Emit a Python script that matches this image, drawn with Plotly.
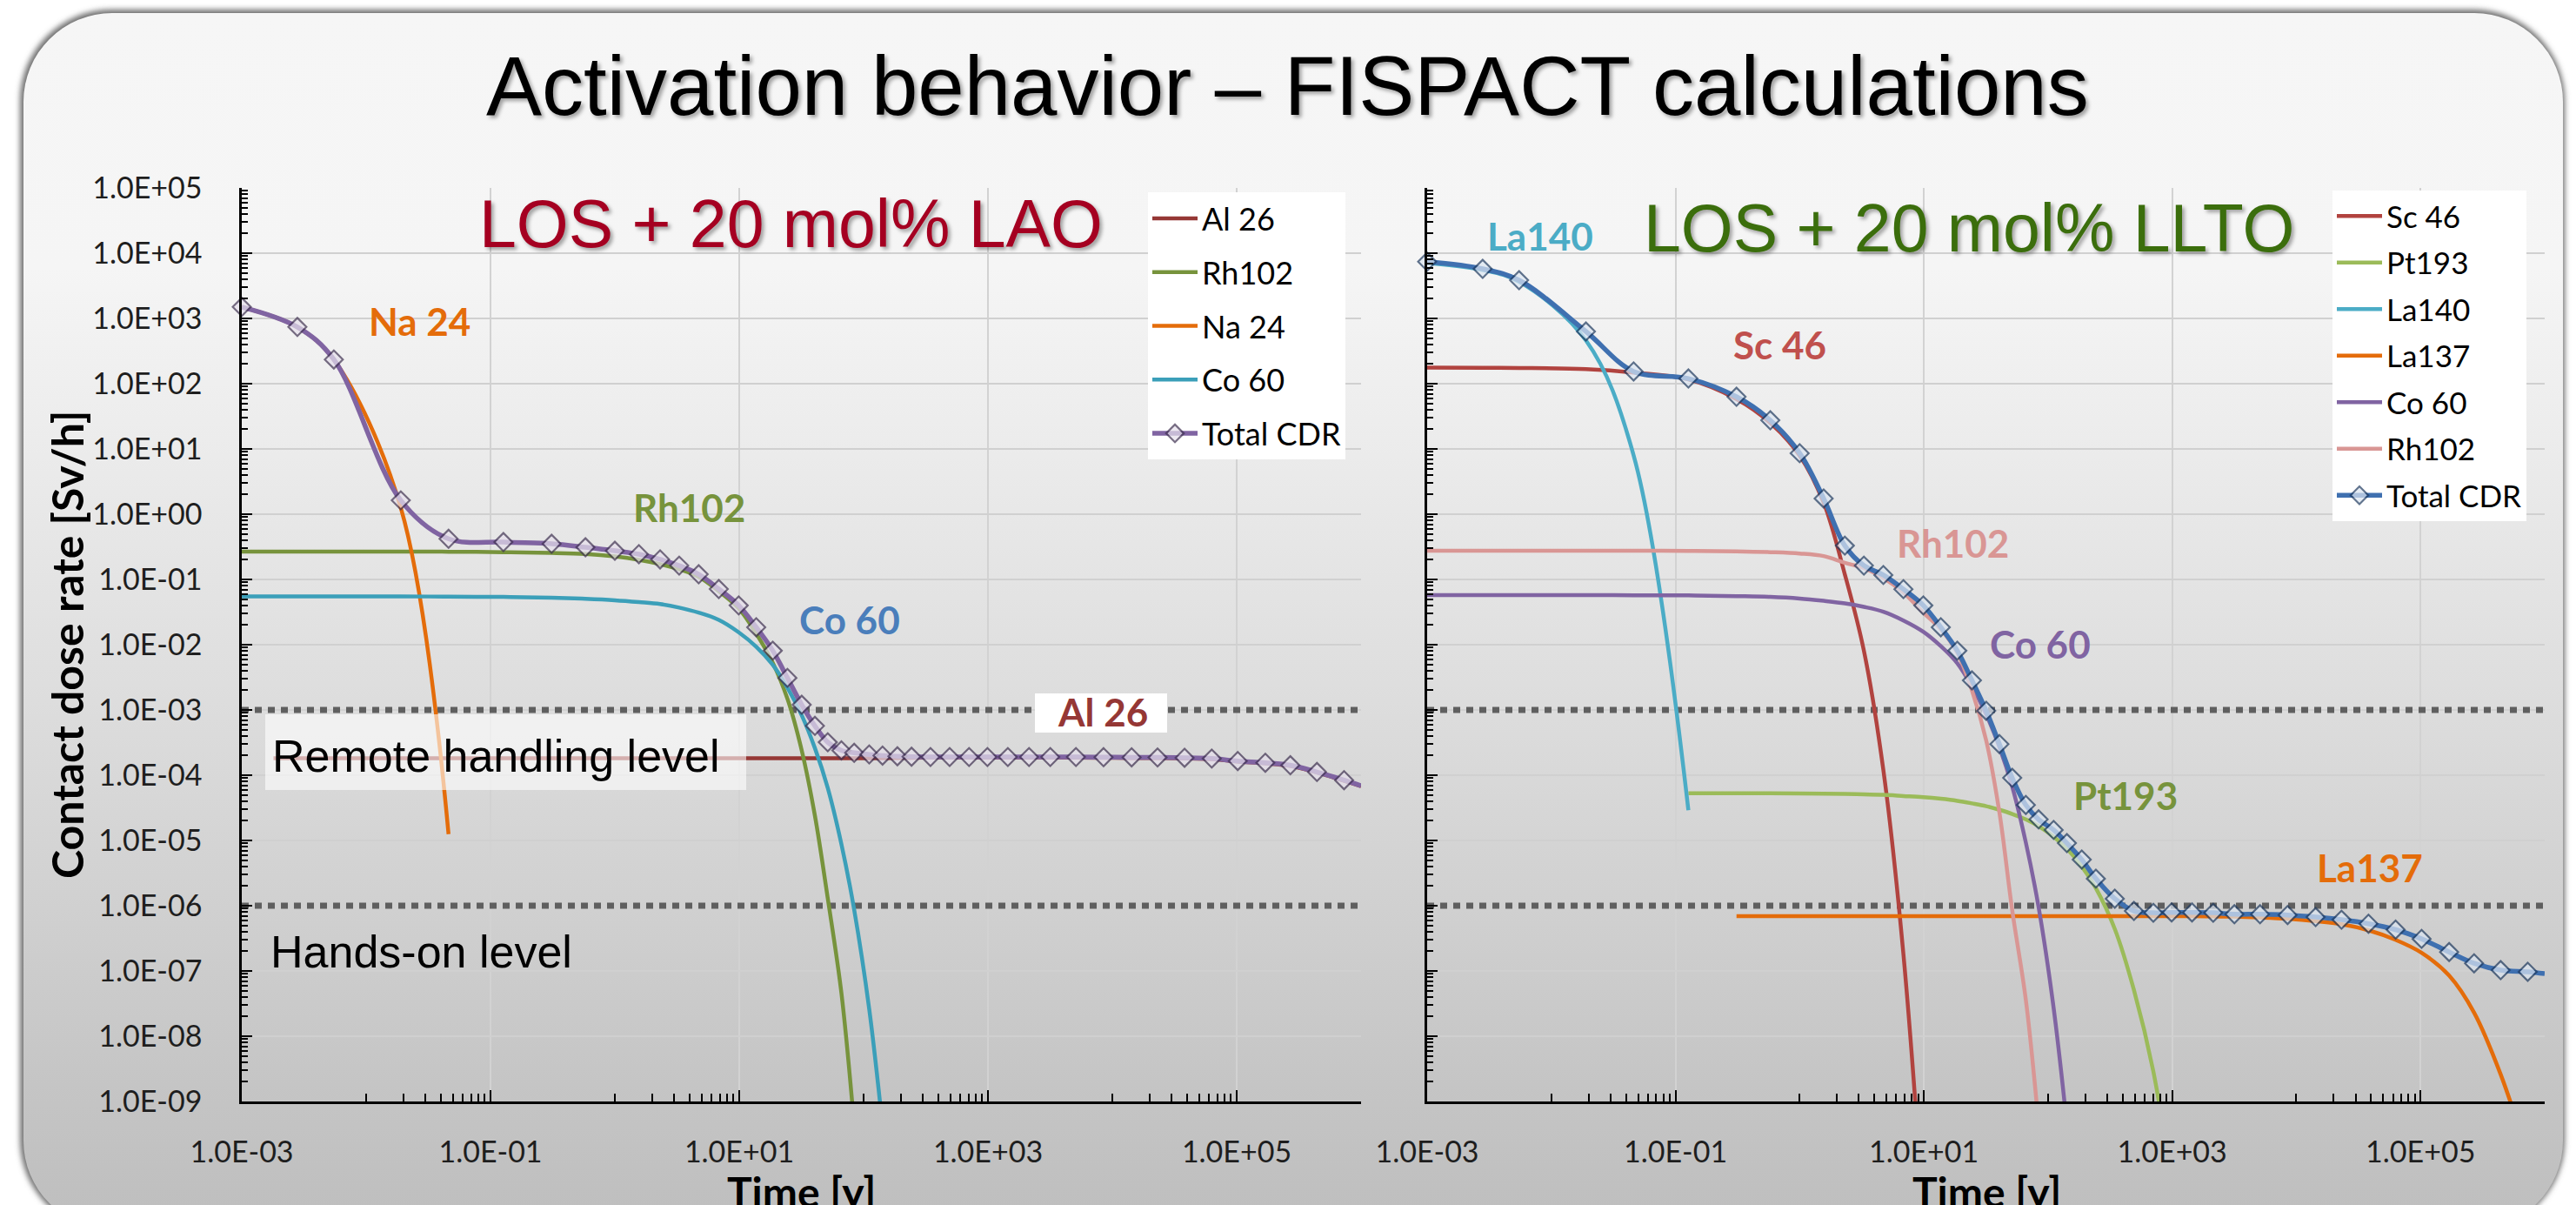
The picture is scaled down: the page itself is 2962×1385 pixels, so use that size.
import base64
import plotly.graph_objects as go

W, H = 2962, 1385

# ---------------- data ----------------
# common cooling-time grid [y]
time_y = [1.0e-3, 2.8e-3, 5.5e-3, 0.019, 0.046, 0.127, 0.31, 0.58, 1.0, 1.56,
          2.31, 3.29, 4.72, 6.85, 9.9, 13.7, 18.6, 24.4, 31.8, 40.6,
          51.5, 66.3, 84, 111, 142, 187, 243, 345, 492, 705,
          990, 1445, 2140, 3170, 5100, 8500, 1.43e4, 2.31e4, 3.81e4, 6.3e4,
          1.02e5, 1.7e5, 2.7e5, 4.42e5, 7.3e5, 1.0e6]

# ---- LOS + 20 mol% LAO (left) ----
lao_total = [1.5e3, 740, 235, 1.63, 0.42, 0.374, 0.352, 0.311, 0.275, 0.244,
             0.203, 0.163, 0.12, 0.0713, 0.04, 0.0185, 8.1e-3, 3.1e-3, 1.2e-3, 5.7e-4,
             3.2e-4, 2.4e-4, 2.2e-4, 2.08e-4, 2.0e-4, 1.95e-4, 1.92e-4, 1.9e-4, 1.9e-4, 1.9e-4,
             1.9e-4, 1.9e-4, 1.9e-4, 1.9e-4, 1.9e-4, 1.89e-4, 1.88e-4, 1.87e-4, 1.85e-4, 1.8e-4,
             1.65e-4, 1.55e-4, 1.42e-4, 1.12e-4, 8.4e-5, 6.9e-5]
lao_al26_first_time = 1.8e-3
lao_al26 = [1.82e-4, 1.82e-4, 1.82e-4, 1.82e-4, 1.82e-4, 1.82e-4, 1.82e-4, 1.82e-4, 1.82e-4, 1.82e-4,
            1.82e-4, 1.82e-4, 1.82e-4, 1.82e-4, 1.82e-4, 1.82e-4, 1.82e-4, 1.82e-4, 1.82e-4, 1.82e-4,
            1.82e-4, 1.82e-4, 1.82e-4, 1.82e-4, 1.82e-4, 1.84e-4, 1.85e-4, 1.86e-4, 1.86e-4, 1.86e-4,
            1.86e-4, 1.86e-4, 1.86e-4, 1.86e-4, 1.86e-4, 1.85e-4, 1.84e-4, 1.83e-4, 1.81e-4, 1.76e-4,
            1.62e-4, 1.52e-4, 1.39e-4, 1.1e-4, 8.2e-5, 6.8e-5]
lao_rh102 = [0.268, 0.268, 0.268, 0.267, 0.266, 0.262, 0.255, 0.245, 0.225, 0.2,
             0.172, 0.143, 0.11, 0.066, 0.036, 0.0148, 5.3e-3, 1.49e-3, 2.4e-4, 2.4e-5,
             1.3e-6, 4.6e-8, 4.3e-10]
lao_na24 = [1.49e3, 735, 233, 1.25, 1.25e-5]
lao_co60 = [0.055, 0.055, 0.055, 0.055, 0.0545, 0.054, 0.0525, 0.0505, 0.048, 0.045,
            0.042, 0.037, 0.031, 0.024, 0.0155, 0.0093, 4.9e-3, 2.2e-3, 8.3e-4, 2.6e-4,
            6.4e-5, 8.8e-6, 8.7e-7, 2.6e-8, 4.2e-10]

# ---- LOS + 20 mol% LLTO (right) ----
llto_total = [7.4e3, 5.75e3, 3.86e3, 631, 154, 120, 63, 27.5, 8.6, 1.74,
              0.33, 0.163, 0.117, 0.071, 0.04, 0.0185, 8.1e-3, 2.84e-3, 9.7e-4, 3.0e-4,
              9.1e-5, 3.5e-5, 2.1e-5, 1.45e-5, 9.1e-6, 5.1e-6, 2.6e-6, 1.28e-6, 8.3e-7, 7.8e-7,
              7.9e-7, 7.9e-7, 7.8e-7, 7.4e-7, 7.4e-7, 7.2e-7, 6.7e-7, 6.1e-7, 5.3e-7, 4.3e-7,
              3.1e-7, 1.95e-7, 1.31e-7, 1.03e-7, 9.7e-8, 9.1e-8]
llto_sc46 = [176, 175, 174, 167, 148, 116, 58, 25, 7.9, 1.5,
             0.12, 8.1e-3, 1.2e-4, 1.8e-7, 1.9e-11]
llto_pt193_start = 5      # first grid index of the Pt193 series
llto_pt193 = [5.3e-5, 5.3e-5, 5.3e-5, 5.25e-5, 5.2e-5, 5.15e-5, 5.1e-5, 5.0e-5, 4.8e-5, 4.6e-5,
              4.35e-5, 4.05e-5, 3.7e-5, 3.35e-5, 2.95e-5, 2.55e-5, 2.1e-5, 1.65e-5, 1.14e-5, 7.5e-6,
              4.0e-6, 1.85e-6, 4.4e-7, 5.1e-8, 2.9e-9, 5.8e-11]
llto_la140 = [7.1e3, 5.55e3, 3.65e3, 460, 8.0, 2.9e-5]
llto_la137_start = 6      # first grid index of the La137 series
llto_la137 = [6.9e-7, 6.9e-7, 6.9e-7, 6.9e-7, 6.9e-7, 6.9e-7, 6.9e-7, 6.9e-7, 6.9e-7, 6.9e-7,
              6.9e-7, 6.9e-7, 6.9e-7, 6.9e-7, 6.9e-7, 6.9e-7, 6.9e-7, 6.9e-7, 6.9e-7, 6.9e-7,
              6.9e-7, 6.9e-7, 6.9e-7, 6.9e-7, 6.9e-7, 6.9e-7, 6.85e-7, 6.8e-7, 6.6e-7, 6.3e-7,
              5.8e-7, 5.2e-7, 4.2e-7, 3.0e-7, 1.9e-7, 8.5e-8, 2.3e-8, 2.6e-9, 1.5e-10]
llto_co60 = [0.0575, 0.0575, 0.0575, 0.0575, 0.0572, 0.057, 0.0555, 0.054, 0.051, 0.047,
             0.043, 0.038, 0.032, 0.0235, 0.0158, 0.0095, 5.2e-3, 2.3e-3, 8.5e-4, 2.7e-4,
             6.7e-5, 9.3e-6, 9.5e-7, 2.7e-8, 4.4e-10]
llto_rh102 = [0.275, 0.275, 0.275, 0.275, 0.275, 0.274, 0.27, 0.262, 0.25, 0.228,
              0.18, 0.149, 0.105, 0.063, 0.031, 0.0172, 7.5e-3, 2.0e-3, 3.4e-4, 2.7e-5,
              8.5e-7, 3.6e-8, 4.5e-10]

# dose-rate levels
remote_handling_level = 1e-3
hands_on_level = 1e-6
time_span = [1e-3, 1e6]

# axis ticks
x_tick_vals = [1e-3, 1e-1, 1e1, 1e3, 1e5]
x_tick_text = ["1.0E-03", "1.0E-01", "1.0E+01", "1.0E+03", "1.0E+05"]
y_tick_vals = [1e-9, 1e-8, 1e-7, 1e-6, 1e-5, 1e-4, 1e-3, 1e-2, 1e-1, 1e0,
               1e1, 1e2, 1e3, 1e4, 1e5]
y_tick_text = ["1.0E-09", "1.0E-08", "1.0E-07", "1.0E-06", "1.0E-05", "1.0E-04",
               "1.0E-03", "1.0E-02", "1.0E-01", "1.0E+00", "1.0E+01", "1.0E+02",
               "1.0E+03", "1.0E+04", "1.0E+05"]
x_minor_vals = [m * 10.0 ** k for k in (-2, 0, 2, 4) for m in range(1, 10)] + [1e6]
y_minor_vals = [m * 10.0 ** k for k in range(-9, 5) for m in range(2, 10)]


# ---------------- helpers ----------------
def px(x):
    return x / W


def py(y):
    return 1 - y / H


def comp_trace(x, y, name, color, xa, ya, leg, width=4.5):
    return go.Scatter(x=x, y=y, name=name, mode="lines",
                      line=dict(color=color, width=width, shape="spline", smoothing=1.0),
                      xaxis=xa, yaxis=ya, legend=leg, legendgroup=leg + name,
                      hoverinfo="skip")


def total_trace(x, y, color, fill, edge, xa, ya, leg):
    sizes = [16] * (len(x) - 1) + [0]
    return go.Scatter(x=x, y=y, name="Total CDR", mode="lines+markers",
                      line=dict(color=color, width=5.5, shape="spline", smoothing=1.0),
                      marker=dict(symbol="diamond", size=sizes, color=fill,
                                  line=dict(color=edge, width=2.2)),
                      cliponaxis=False, xaxis=xa, yaxis=ya, legend=leg,
                      legendgroup=leg + "total", hoverinfo="skip")


def level_trace(level, xa, ya):
    return go.Scatter(x=time_span, y=[level, level], mode="lines",
                      line=dict(color="#5f5f5f", width=7, dash="8px,7px"),
                      xaxis=xa, yaxis=ya, showlegend=False, hoverinfo="skip")


fig = go.Figure()

# left panel
fig.add_trace(level_trace(remote_handling_level, "x", "y"))
fig.add_trace(level_trace(hands_on_level, "x", "y"))
fig.add_trace(comp_trace([lao_al26_first_time] + time_y[1:len(lao_al26)], lao_al26,
                         "Al 26", "#953735", "x", "y", "legend"))
fig.add_trace(comp_trace(time_y[:len(lao_rh102)], lao_rh102, "Rh102", "#77933c", "x", "y", "legend"))
fig.add_trace(comp_trace(time_y[:len(lao_na24)], lao_na24, "Na 24", "#e46c0a", "x", "y", "legend"))
fig.add_trace(comp_trace(time_y[:len(lao_co60)], lao_co60, "Co 60", "#3b9fb9", "x", "y", "legend"))
fig.add_trace(total_trace(time_y, lao_total, "#8064a2", "#e6e0ec", "#3f3151", "x", "y", "legend"))

# right panel
fig.add_trace(level_trace(remote_handling_level, "x2", "y2"))
fig.add_trace(level_trace(hands_on_level, "x2", "y2"))
fig.add_trace(comp_trace(time_y[:len(llto_sc46)], llto_sc46, "Sc 46", "#b1433f", "x2", "y2", "legend2"))
fig.add_trace(comp_trace(time_y[llto_pt193_start:llto_pt193_start + len(llto_pt193)], llto_pt193,
                         "Pt193", "#9bbb59", "x2", "y2", "legend2"))
fig.add_trace(comp_trace(time_y[:len(llto_la140)], llto_la140, "La140", "#4bacc6", "x2", "y2", "legend2"))
fig.add_trace(comp_trace(time_y[llto_la137_start:llto_la137_start + len(llto_la137)], llto_la137,
                         "La137", "#e46c0a", "x2", "y2", "legend2"))
fig.add_trace(comp_trace(time_y[:len(llto_co60)], llto_co60, "Co 60", "#8064a2", "x2", "y2", "legend2"))
fig.add_trace(comp_trace(time_y[:len(llto_rh102)], llto_rh102, "Rh102", "#d99694", "x2", "y2", "legend2"))
fig.add_trace(total_trace(time_y, llto_total, "#3f70b0", "#dce6f2", "#1f3a5f", "x2", "y2", "legend2"))

# ---------------- axes ----------------
tickfont = dict(family="Lato", size=34, color="#1e1e1e")


def x_axis(domain, anchor):
    return dict(type="log", range=[-3, 6], domain=domain, anchor=anchor,
                tickmode="array", tickvals=x_tick_vals, ticktext=x_tick_text,
                showgrid=True, gridcolor="#d2d2d2", gridwidth=1.5,
                showline=True, linecolor="black", linewidth=2.5,
                ticks="inside", ticklen=13, tickwidth=2, tickcolor="black",
                minor=dict(tickmode="array", tickvals=x_minor_vals, ticks="inside",
                           ticklen=9, tickwidth=2, tickcolor="black", showgrid=False),
                tickfont=tickfont, ticklabelstandoff=26, zeroline=False,
                fixedrange=True, automargin=False)


def y_axis(domain, anchor, labels):
    return dict(type="log", range=[-9, 5], domain=domain, anchor=anchor,
                tickmode="array", tickvals=y_tick_vals, ticktext=y_tick_text,
                showticklabels=labels,
                showgrid=True, gridcolor="#d0d0d0", gridwidth=2,
                showline=True, linecolor="black", linewidth=2.5,
                ticks="inside", ticklen=12, tickwidth=2, tickcolor="black",
                minor=dict(tickmode="array", tickvals=y_minor_vals, ticks="inside",
                           ticklen=7, tickwidth=2, tickcolor="black", showgrid=False),
                tickfont=tickfont, ticklabelstandoff=36, zeroline=False,
                fixedrange=True, automargin=False)


ydom = [py(1266), py(216)]
fig.update_layout(
    xaxis=x_axis([px(278), px(1565)], "y"),
    yaxis=y_axis(ydom, "x", True),
    xaxis2=x_axis([px(1641), px(2926)], "y2"),
    yaxis2=y_axis(ydom, "x2", False),
)

# ---------------- background panel (rounded, gradient) ----------------
svg = f'''<svg xmlns="http://www.w3.org/2000/svg" width="{W}" height="{H}" viewBox="0 0 {W} {H}" preserveAspectRatio="none">
<defs>
<linearGradient id="g" x1="0" y1="0" x2="0" y2="1">
<stop offset="0" stop-color="#f6f6f6"/>
<stop offset="0.21" stop-color="#f5f5f5"/>
<stop offset="0.35" stop-color="#ececec"/>
<stop offset="0.58" stop-color="#dcdcdc"/>
<stop offset="0.71" stop-color="#d2d2d2"/>
<stop offset="0.88" stop-color="#c5c5c5"/>
<stop offset="1" stop-color="#bebebe"/>
</linearGradient>
<filter id="b" x="-2%" y="-2%" width="104%" height="104%"><feGaussianBlur stdDeviation="3"/></filter>
</defs>
<rect x="23" y="11" width="2926" height="1404" rx="105" ry="105" fill="#6f6f6f" filter="url(#b)"/>
<rect x="27" y="15" width="2920" height="1398" rx="102" ry="102" fill="url(#g)"/>
</svg>'''
svg_uri = "data:image/svg+xml;base64," + base64.b64encode(svg.encode("utf-8")).decode("ascii")

fig.update_layout(images=[dict(source=svg_uri, xref="paper", yref="paper", x=0, y=1,
                               sizex=1, sizey=1, xanchor="left", yanchor="top",
                               sizing="stretch", layer="below")])

# ---------------- shapes (label backgrounds) ----------------
fig.update_layout(shapes=[
    dict(type="rect", xref="paper", yref="paper", x0=px(305), x1=px(858), y0=py(908), y1=py(821),
         fillcolor="rgba(255,255,255,0.6)", line=dict(width=0), layer="above"),
    dict(type="rect", xref="paper", yref="paper", x0=px(1190), x1=px(1342), y0=py(842), y1=py(797),
         fillcolor="white", line=dict(width=0), layer="above"),
])

# ---------------- annotations ----------------
ann = []


def add_text(text, x, y, size, color="black", family="Lato", xanchor="center",
             angle=0, shadow=None):
    font = dict(family=family, size=size, color=color)
    if shadow:
        font["shadow"] = shadow
    ann.append(dict(text=text, x=px(x), y=py(y), xref="paper", yref="paper",
                    xanchor=xanchor, yanchor="middle", showarrow=False,
                    textangle=angle, font=font))


title_shadow = "3px 3px 4px rgba(0,0,0,0.35)"
add_text("Activation behavior – FISPACT calculations", 1480, 98, 96,
         family="Liberation Sans", shadow=title_shadow)
add_text("LOS + 20 mol% LAO", 909, 257, 77, color="#a50021",
         family="Liberation Sans", shadow=title_shadow)
add_text("LOS + 20 mol% LLTO", 2264, 262, 77, color="#3b6e0c",
         family="Liberation Sans", shadow=title_shadow)

lab = 44
add_text("<b>Na 24</b>", 482, 369, lab, color="#e46c0a")
add_text("<b>Rh102</b>", 792, 583, lab, color="#77933c")
add_text("<b>Co 60</b>", 977, 712, lab, color="#4a7ebb")
add_text("<b>Al 26</b>", 1268, 818, lab, color="#953735")
add_text("<b>La140</b>", 1771, 271, lab, color="#4bacc6")
add_text("<b>Sc 46</b>", 2046, 396, lab, color="#c0504d")
add_text("<b>Rh102</b>", 2245, 624, lab, color="#d99694")
add_text("<b>Co 60</b>", 2346, 740, lab, color="#8064a2")
add_text("<b>Pt193</b>", 2444, 914, lab, color="#77933c")
add_text("<b>La137</b>", 2725, 997, lab, color="#e46c0a")

add_text("Remote handling level", 311, 869, 52, family="Liberation Sans", xanchor="left")
add_text("Hands-on level", 309, 1094, 52, family="Liberation Sans", xanchor="left")

add_text("<b>Contact dose rate [Sv/h]</b>", 77, 741, 50, angle=-90)
add_text("<b>Time [y]</b>", 921, 1369, 48)
add_text("<b>Time [y]</b>", 2284, 1369, 48)

fig.update_layout(annotations=ann)

# ---------------- legends ----------------
fig.update_layout(
    legend=dict(x=px(1320), y=py(221), xanchor="left", yanchor="top",
                bgcolor="white", borderwidth=0, traceorder="grouped",
                font=dict(family="Lato", size=36, color="black"),
                itemwidth=52, tracegroupgap=12),
    legend2=dict(x=px(2682), y=py(219), xanchor="left", yanchor="top",
                 bgcolor="white", borderwidth=0, traceorder="grouped",
                 font=dict(family="Lato", size=35, color="black"),
                 itemwidth=52, tracegroupgap=5),
    width=W, height=H, margin=dict(l=0, r=0, t=0, b=0),
    paper_bgcolor="white", plot_bgcolor="white", hovermode=False,
)

fig.write_html("out.html", config=dict(displayModeBar=False, responsive=False),
               post_script="document.body.style.margin='0';document.body.style.overflow='hidden';")
